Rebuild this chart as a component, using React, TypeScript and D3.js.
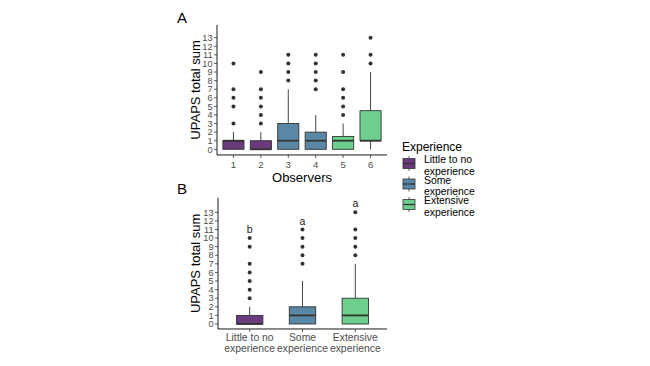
import React from "react";
import * as d3 from "d3";

const groups = ["Little to no\nexperience", "Some\nexperience", "Extensive\nexperience"];
const colors = ["#6b3a7c", "#5b87a6", "#6dce8e"];

// Panel A: observers
const observers = ["1", "2", "3", "4", "5", "6"];
const obsGroup = [0, 0, 1, 1, 2, 2];
const obsQ1 = [0, 0, 0, 0, 0, 1];
const obsMed = [1, 0, 1, 1, 1, 1];
const obsQ3 = [1, 1, 3, 2, 1.5, 4.5];
const obsLo = [0, 0, 0, 0, 0, 0];
const obsHi = [2, 2, 7, 4, 3, 9];
const obsOut = [
  [3, 5, 6, 7, 10],
  [3, 4, 5, 6, 7, 9],
  [8, 9, 10, 11],
  [7, 8, 9, 10, 11],
  [4, 5, 6, 7, 9, 11],
  [10, 11, 13],
];

// Panel B: experience groups
const grpQ1 = [0, 0, 0];
const grpMed = [0, 1, 1];
const grpQ3 = [1, 2, 3];
const grpLo = [0, 0, 0];
const grpHi = [2, 5, 7];
const grpOut = [
  [3, 4, 5, 6, 7, 9, 10],
  [7, 8, 9, 10, 11],
  [8, 9, 10, 11, 13],
];
const grpLetters = ["b", "a", "a"];
const letterY = [11, 11.9, 14];

const yTicks = d3.range(0, 14);
const FONT = "Liberation Sans, Arial, sans-serif";
const LINE = "#333333";

function Box({ x, w, y, q1, med, q3, lo, hi, out, fill }: any) {
  return (
    <g>
      <line x1={x} x2={x} y1={y(q3)} y2={y(hi)} stroke={LINE} strokeWidth={0.9} />
      <line x1={x} x2={x} y1={y(q1)} y2={y(lo)} stroke={LINE} strokeWidth={0.9} />
      <rect x={x - w / 2} y={y(q3)} width={w} height={y(q1) - y(q3)} fill={fill} stroke={LINE} strokeWidth={0.9} />
      <line x1={x - w / 2} x2={x + w / 2} y1={y(med)} y2={y(med)} stroke={LINE} strokeWidth={1.8} />
      {out.map((o: number, i: number) => (
        <circle key={i} cx={x} cy={y(o)} r={2} fill={LINE} />
      ))}
    </g>
  );
}

function YAxis({ x, y, top, bottom }: any) {
  return (
    <g>
      <line x1={x} x2={x} y1={top} y2={bottom} stroke="#000" strokeWidth={0.9} />
      {yTicks.map((t) => (
        <g key={t}>
          <line x1={x - 3} x2={x} y1={y(t)} y2={y(t)} stroke="#333" strokeWidth={0.8} />
          <text x={x - 4.5} y={y(t)} dy="0.35em" textAnchor="end" fontSize={9.2} fill="#4d4d4d" fontFamily={FONT}>
            {t}
          </text>
        </g>
      ))}
    </g>
  );
}

export default function App() {
  // Panel A scales
  const xA = d3.scaleLinear().domain([0.4, 6.6]).range([217, 387]);
  const yA = d3.scaleLinear().domain([0, 13]).range([149.3, 37.7]);
  const wA = (xA(1) - xA(0)) * 0.77;
  // Panel B scales
  const xB = d3.scaleLinear().domain([0.4, 3.6]).range([218, 387]);
  const yB = d3.scaleLinear().domain([0, 13]).range([324, 212.3]);
  const wB = (xB(1) - xB(0)) * 0.5;

  const botA = yA(-0.66);
  const topA = yA(14.5);
  const botB = yB(-0.58);
  const topB = yB(14.7);

  return (
    <svg width={650} height={366} style={{ position: "absolute", left: 0, top: 0 }}>
      <rect width={650} height={366} fill="#fff" />
      {/* Panel A */}
      <text x={177} y={23} fontSize={15} fontFamily={FONT} fill="#000">A</text>
      <text transform={`translate(199.5,${(topA + botA) / 2}) rotate(-90)`} textAnchor="middle" fontSize={13} fontFamily={FONT} fill="#000">
        UPAPS total sum
      </text>
      {observers.map((o, i) => (
        <Box key={o} x={xA(i + 1)} w={wA} y={yA} q1={obsQ1[i]} med={obsMed[i]} q3={obsQ3[i]} lo={obsLo[i]} hi={obsHi[i]} out={obsOut[i]} fill={colors[obsGroup[i]]} />
      ))}
      <YAxis x={217} y={yA} top={topA} bottom={botA} />
      <line x1={217} x2={387} y1={botA} y2={botA} stroke="#000" strokeWidth={0.9} />
      {observers.map((o, i) => (
        <g key={o}>
          <line x1={xA(i + 1)} x2={xA(i + 1)} y1={botA} y2={botA + 3} stroke="#333" strokeWidth={0.8} />
          <text x={xA(i + 1)} y={botA + 10} dy="0.35em" textAnchor="middle" fontSize={9.6} fill="#4d4d4d" fontFamily={FONT}>
            {o}
          </text>
        </g>
      ))}
      <text x={(217 + 387) / 2} y={182} textAnchor="middle" fontSize={13} fontFamily={FONT} fill="#000">Observers</text>

      {/* Panel B */}
      <text x={177} y={194} fontSize={15} fontFamily={FONT} fill="#000">B</text>
      <text transform={`translate(199.5,${(topB + botB) / 2}) rotate(-90)`} textAnchor="middle" fontSize={13} fontFamily={FONT} fill="#000">
        UPAPS total sum
      </text>
      {groups.map((g, i) => (
        <g key={g}>
          <Box x={xB(i + 1)} w={wB} y={yB} q1={grpQ1[i]} med={grpMed[i]} q3={grpQ3[i]} lo={grpLo[i]} hi={grpHi[i]} out={grpOut[i]} fill={colors[i]} />
          <text x={xB(i + 1)} y={yB(letterY[i])} dy="0.35em" textAnchor="middle" fontSize={10.5} fontFamily={FONT} fill="#1a1a1a">
            {grpLetters[i]}
          </text>
        </g>
      ))}
      <YAxis x={218} y={yB} top={topB} bottom={botB} />
      <line x1={218} x2={387} y1={botB} y2={botB} stroke="#000" strokeWidth={0.9} />
      {groups.map((g, i) => (
        <g key={g}>
          <line x1={xB(i + 1)} x2={xB(i + 1)} y1={botB} y2={botB + 3} stroke="#333" strokeWidth={0.8} />
          {g.split("\n").map((ln, j) => (
            <text key={j} x={xB(i + 1)} y={botB + 8 + j * 11.6} dy="0.35em" textAnchor="middle" fontSize={10.4} fill="#4d4d4d" fontFamily={FONT}>
              {ln}
            </text>
          ))}
        </g>
      ))}

      {/* Legend */}
      <text x={402} y={151} fontSize={12} fontFamily={FONT} fill="#000">Experience</text>
      {groups.map((g, i) => {
        const cy = 163.5 + i * 20.5;
        return (
          <g key={g}>
            <line x1={409} x2={409} y1={cy - 7.5} y2={cy + 7.5} stroke={LINE} strokeWidth={0.8} />
            <rect x={403} y={cy - 5} width={12} height={10} fill={colors[i]} stroke={LINE} strokeWidth={0.8} />
            <line x1={403} x2={415} y1={cy} y2={cy} stroke={LINE} strokeWidth={1.3} />
            {g.split("\n").map((ln, j) => (
              <text key={j} x={424} y={cy - 4 + j * 11.5} dy="0.35em" fontSize={10.4} fill="#000" fontFamily={FONT}>
                {ln}
              </text>
            ))}
          </g>
        );
      })}
    </svg>
  );
}
